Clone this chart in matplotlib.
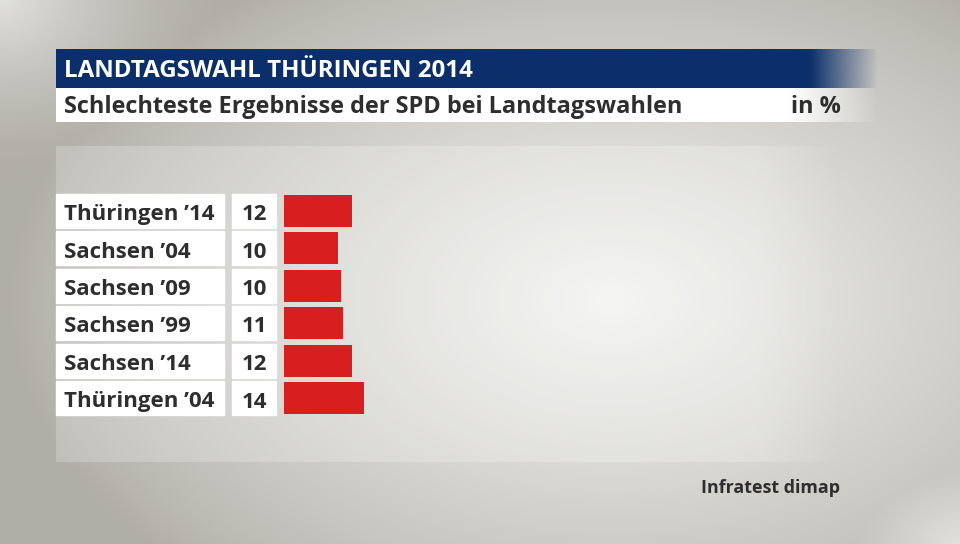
import numpy as np
import matplotlib
matplotlib.use("Agg")
import matplotlib.pyplot as plt
from matplotlib.transforms import blended_transform_factory

plt.rcParams['font.family'] = ['Open Sans', 'DejaVu Sans']

# data
title = "LANDTAGSWAHL THÜRINGEN 2014"
subtitle = "Schlechteste Ergebnisse der SPD bei Landtagswahlen"
unit = "in %"
source = "Infratest dimap"
labels = ["Thüringen ’14", "Sachsen ’04", "Sachsen ’09", "Sachsen ’99", "Sachsen ’14", "Thüringen ’04"]
values = [12.4, 9.8, 10.4, 10.7, 12.4, 14.5]
shown = ["12", "10", "10", "11", "12", "14"]

navy = "#0b2f6a"
red = "#d81f1f"
dark = "#2e2e2e"

W, H = 960, 544
fig = plt.figure(figsize=(9.6, 5.44), dpi=100)

# background in pixel coordinates
bg = fig.add_axes([0, 0, 1, 1])
bg.set_xlim(0, W)
bg.set_ylim(H, 0)
bg.axis("off")

yy, xx = np.mgrid[0:H, 0:W]
def blob(cx, cy, rx, ry, p):
    d = np.sqrt(((xx - cx) / rx) ** 2 + ((yy - cy) / ry) ** 2)
    return np.clip(1 - d, 0, 1) ** p
glow = np.maximum.reduce([blob(610, 300, 600, 380, 0.8), 0.75 * blob(0, 0, 230, 180, 1.6),
                          0.75 * blob(960, 544, 260, 200, 1.6)])
light = np.array([0.95, 0.95, 0.94])
base = np.array([0.69, 0.685, 0.655])
img = base[None, None, :] + (light - base)[None, None, :] * glow[..., None]
bg.imshow(img, extent=[0, W, H, 0], aspect="auto", zorder=0)

def fade_bar(x0, x1, xf, y0, y1, rgb, alpha=1.0, z=1):
    n = 200
    xs = np.linspace(x0, x1, n)
    a = np.where(xs < xf, alpha, alpha * np.clip((x1 - xs) / (x1 - xf), 0, 1))
    arr = np.zeros((1, n, 4))
    arr[0, :, :3] = matplotlib.colors.to_rgb(rgb)
    arr[0, :, 3] = a
    bg.imshow(arr, extent=[x0, x1, y1, y0], aspect="auto", zorder=z, interpolation="bilinear")

# light panel behind rows
fade_bar(56, 845, 760, 146, 462, "#ffffff", alpha=0.22, z=1)
# title and subtitle bars
fade_bar(56, 880, 812, 49, 88, navy, z=2)
fade_bar(56, 880, 790, 88, 122, "#ffffff", z=2)

bg.text(64, 77, title, color="white", fontsize=17.4, fontweight="bold", va="baseline", ha="left", zorder=3)
bg.text(64, 113, subtitle, color=dark, fontsize=16.9, fontweight="bold", va="baseline", ha="left", zorder=3)
bg.text(841, 113, unit, color=dark, fontsize=16.9, fontweight="bold", va="baseline", ha="right", zorder=3)
bg.text(840, 493, source, color=dark, fontsize=12.9, fontweight="bold", va="baseline", ha="right", zorder=3)

# bars
px_per_unit = 5.52
pitch = 37.5
top = 210.5 - pitch / 2
ax_w = 600
ax = fig.add_axes([284 / W, 1 - (top + pitch * len(values)) / H, ax_w / W, pitch * len(values) / H])
ax.set_xlim(0, ax_w / px_per_unit)
ax.set_ylim(len(values) - 0.5, -0.5)
ax.axis("off")
ax.patch.set_alpha(0)
rows = np.arange(len(values))
ax.barh(rows, values, height=32 / pitch, color=red, zorder=3)

# label and value boxes (x in pixels, y in rows)
tr = blended_transform_factory(bg.transData, ax.transData)
hb = 34 / pitch
base_off = 9.5 / pitch
for i, (lab, s) in enumerate(zip(labels, shown)):
    ax.add_patch(plt.Rectangle((56, i - hb / 2), 168, hb, transform=tr, color="white", clip_on=False, zorder=2))
    ax.add_patch(plt.Rectangle((232, i - hb / 2), 44, hb, transform=tr, color="white", clip_on=False, zorder=2))
    ax.text(64, i + base_off, lab, transform=tr, color=dark, fontsize=16, fontweight="bold", va="baseline", ha="left", zorder=4)
    ax.text(254, i + base_off, s, transform=tr, color=dark, fontsize=16, fontweight="bold", va="baseline", ha="center", zorder=4)

fig.savefig("out.png", dpi=100)
